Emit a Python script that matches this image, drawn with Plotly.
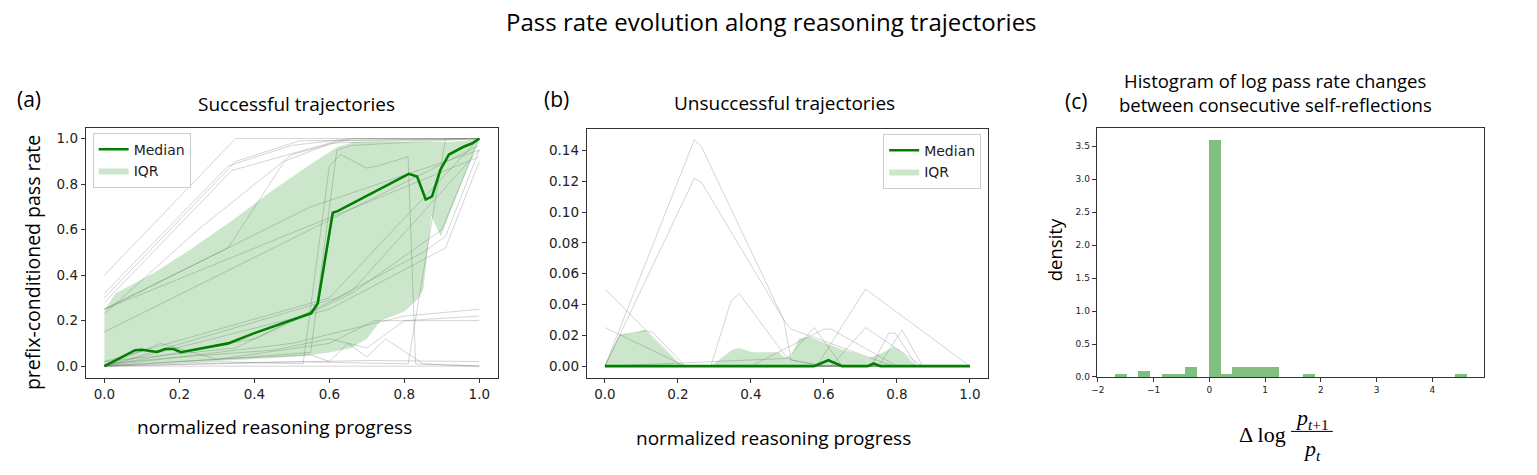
import plotly.graph_objects as go

W, H = 1537, 475

# ---------------- Data: panel (a) successful trajectories ----------------
succ_traj_x = [
    [0, 0.35, 1],
    [0, 0.33, 0.5, 0.66, 1],
    [0, 0.35, 0.52, 1],
    [0, 0.34, 0.6, 1],
    [0, 0.33, 0.48, 0.62, 1],
    [0, 0.25, 0.5, 0.66, 1],
    [0, 1],
    [0, 0.55, 1],
    [0, 0.4, 0.66, 1],
    [0, 0.6, 1],
    [0, 0.3, 0.53, 0.6, 0.63, 0.7, 0.73, 0.81, 0.83, 1],
    [0, 0.3, 0.55, 0.62, 0.66, 1],
    [0, 0.5, 0.81, 0.91, 1],
    [0, 0.3, 0.6, 0.72, 1],
    [0, 0.5, 0.8, 1],
    [0, 0.15, 0.3, 0.55, 0.6, 0.65, 0.7, 0.75, 0.85, 1],
    [0, 1],
    [0, 0.7, 1],
    [0, 0.6, 0.83, 0.91, 1],
    [0, 0.62, 0.85, 0.91, 1],
    [0, 1],
    [0, 0.35, 0.66, 0.9, 1],
    [0, 0.2, 0.45, 0.6, 0.7, 0.8, 1],
]
succ_traj_y = [
    [0.40, 1.0, 1.0],
    [0.32, 0.88, 0.97, 1.0, 1.0],
    [0.30, 0.90, 0.99, 1.0],
    [0.28, 0.86, 0.98, 1.0],
    [0.25, 0.52, 0.90, 0.99, 1.0],
    [0.23, 0.60, 0.93, 1.0, 1.0],
    [0.15, 0.97],
    [0.25, 0.70, 0.95],
    [0.0, 0.12, 0.33, 0.95],
    [0.02, 0.30, 1.0],
    [0.0, 0.02, 0.01, 0.88, 0.93, 0.87, 0.88, 0.92, 0.01, 0.0],
    [0.0, 0.03, 0.06, 0.95, 0.97, 1.0],
    [0.0, 0.02, 0.01, 1.0, 1.0],
    [0.0, 0.03, 0.10, 0.20, 0.20],
    [0.0, 0.10, 0.22, 0.25],
    [0.0, 0.10, 0.03, 0.05, 0.02, 0.10, 0.04, 0.12, 0.01, 0.0],
    [0.0, 0.0],
    [0.0, 0.025, 0.02],
    [0.0, 0.25, 0.45, 0.52, 0.90],
    [0.0, 0.30, 0.50, 0.57, 0.95],
    [0.25, 0.92],
    [0.02, 0.08, 0.32, 0.60, 1.0],
    [0.01, 0.04, 0.07, 0.12, 0.08, 0.20, 0.22],
]
succ_median_x = [0, 0.082, 0.10, 0.14, 0.162, 0.184, 0.204, 0.233, 0.33, 0.40, 0.551, 0.569,
                 0.609, 0.622, 0.812, 0.834, 0.857, 0.874, 0.896, 0.919, 0.958, 0.98, 1.0]
succ_median_y = [0, 0.07, 0.072, 0.062, 0.075, 0.075, 0.061, 0.07, 0.10, 0.145, 0.232, 0.275,
                 0.674, 0.681, 0.845, 0.833, 0.732, 0.746, 0.862, 0.930, 0.964, 0.978, 1.0]
succ_iqr_x = [0, 0.029, 0.135, 0.224, 0.339, 0.445, 0.534, 0.622, 0.666, 0.75, 0.85, 0.92,
              0.96, 1.0]
succ_iqr_hi = [0.246, 0.319, 0.413, 0.507, 0.638, 0.768, 0.870, 0.964, 0.985, 0.985, 0.985,
               0.985, 0.99, 1.0]
succ_iqr_lo_x = [0, 0.1, 0.27, 0.4, 0.53, 0.6, 0.658, 0.70, 0.737, 0.80, 0.838, 0.851,
                 0.872, 0.897, 1.0]
succ_iqr_lo = [0.0, 0.01, 0.02, 0.03, 0.043, 0.06, 0.08, 0.12, 0.20, 0.24, 0.297, 0.34,
               0.66, 0.57, 1.0]

# ---------------- Data: panel (b) unsuccessful trajectories ----------------
fail_traj_x = [
    [0, 0.245, 0.265, 0.49, 0.51, 0.79, 1],
    [0, 0.245, 0.265, 0.49, 0.51, 0.6, 1],
    [0, 0.21, 1],
    [0, 0.22, 1],
    [0, 0.04, 0.11, 0.13, 0.22, 1],
    [0, 0.29, 0.345, 0.368, 0.49, 0.51, 0.6, 1],
    [0, 0.4, 0.6, 0.62, 0.8, 1],
    [0, 0.5, 0.573, 0.65, 1],
    [0, 0.58, 0.714, 1],
    [0, 0.62, 0.714, 0.79, 0.87, 1],
    [0, 0.73, 0.778, 0.796, 0.855, 1],
    [0, 0.75, 0.814, 0.87, 1],
]
fail_traj_y = [
    [0, 0.147, 0.142, 0.030, 0.024, 0.0, 0.0],
    [0, 0.122, 0.119, 0.030, 0.004, 0.0, 0.0],
    [0.05, 0.0, 0.0],
    [0.025, 0.0, 0.0],
    [0, 0.020, 0.023, 0.022, 0.0, 0.0],
    [0, 0.0, 0.042, 0.047, 0.008, 0.004, 0.0, 0.0],
    [0, 0.0, 0.024, 0.024, 0.0, 0.0],
    [0, 0.005, 0.025, 0.0, 0.0],
    [0, 0.0, 0.050, 0.0],
    [0, 0.0, 0.025, 0.013, 0.0, 0.0],
    [0, 0.0, 0.0214, 0.0214, 0.0, 0.0],
    [0, 0.0, 0.0235, 0.0, 0.0],
]
fail_median_x = [0, 0.573, 0.612, 0.65, 0.72, 0.736, 0.755, 1.0]
fail_median_y = [0, 0.0, 0.0038, 0.0, 0.0, 0.0017, 0.0, 0.0]
fail_iqr_x = [0, 0.041, 0.082, 0.109, 0.2, 0.22, 0.29, 0.35, 0.368, 0.405, 0.477, 0.49,
              0.509, 0.532, 0.559, 0.65, 0.686, 0.723, 0.755, 0.79, 0.805, 0.855, 1.0]
fail_iqr_hi = [0, 0.0203, 0.0214, 0.0235, 0.002, 0.0, 0.0, 0.0107, 0.0118, 0.009, 0.009,
               0.006, 0.006, 0.018, 0.019, 0.0107, 0.0085, 0.0053, 0.008, 0.0124, 0.0107,
               0.0, 0.0]
fail_iqr_lo = [0.0] * len(fail_iqr_x)

# ---------------- Data: panel (c) histogram ----------------
hist_bin_width = 0.2107
hist_bin_left = [-1.70, -1.279, -0.857, -0.646, -0.436, -0.014, 0.197, 0.407, 0.618,
                 0.829, 1.039, 1.671, 4.41]
hist_density = [0.05, 0.10, 0.05, 0.05, 0.15, 3.60, 0.05, 0.15, 0.15, 0.15, 0.15, 0.05, 0.05]
hist_xticks = [-2, -1, 0, 1, 2, 3, 4]
hist_xtick_text = ["\u22122", "\u22121", "0", "1", "2", "3", "4"]

GRAY = "rgba(128,128,128,0.34)"
GREEN = "#008000"
FILL = "rgba(0,128,0,0.2)"

fig = go.Figure()

# Panel (a)
for xs, ys in zip(succ_traj_x, succ_traj_y):
    fig.add_trace(go.Scatter(x=xs, y=ys, mode="lines", line=dict(color=GRAY, width=1),
                             showlegend=False, hoverinfo="skip", xaxis="x", yaxis="y"))
fig.add_trace(go.Scatter(x=succ_iqr_lo_x + succ_iqr_x[::-1], y=succ_iqr_lo + succ_iqr_hi[::-1],
                         mode="lines", fill="toself", fillcolor=FILL, line=dict(width=0),
                         name="IQR", legend="legend", legendrank=2, xaxis="x", yaxis="y"))
fig.add_trace(go.Scatter(x=succ_median_x, y=succ_median_y, mode="lines",
                         line=dict(color=GREEN, width=2.6), name="Median", legend="legend",
                         legendrank=1, xaxis="x", yaxis="y"))

# Panel (b)
for xs, ys in zip(fail_traj_x, fail_traj_y):
    fig.add_trace(go.Scatter(x=xs, y=ys, mode="lines", line=dict(color=GRAY, width=1),
                             showlegend=False, hoverinfo="skip", xaxis="x2", yaxis="y2"))
fig.add_trace(go.Scatter(x=fail_iqr_x + fail_iqr_x[::-1], y=fail_iqr_lo + fail_iqr_hi[::-1],
                         mode="lines", fill="toself", fillcolor=FILL, line=dict(width=0),
                         name="IQR", legend="legend2", legendrank=2, xaxis="x2", yaxis="y2"))
fig.add_trace(go.Scatter(x=fail_median_x, y=fail_median_y, mode="lines",
                         line=dict(color=GREEN, width=2.6), name="Median", legend="legend2",
                         legendrank=1, xaxis="x2", yaxis="y2"))

# Panel (c)
fig.add_trace(go.Bar(x=hist_bin_left, y=hist_density, width=hist_bin_width, offset=0,
                     marker=dict(color="rgba(0,128,0,0.5)", line=dict(width=0)),
                     showlegend=False, xaxis="x3", yaxis="y3"))


def px_x(p):
    return p / W


def px_y(p):
    return 1 - p / H


tick_font = dict(family="DejaVu Sans", size=13.5, color="#222")
small_tick_font = dict(family="DejaVu Sans", size=9, color="#222")
axis_common = dict(showline=True, mirror=True, linecolor="#333", linewidth=1, showgrid=False,
                   zeroline=False, ticks="outside", ticklen=4, tickcolor="#333", tickwidth=1)

fig.update_layout(
    width=W, height=H, margin=dict(l=0, r=0, t=0, b=0),
    paper_bgcolor="white", plot_bgcolor="white", bargap=0,
    xaxis=dict(domain=[px_x(80), px_x(494)], range=[-0.05, 1.05], tickvals=[0, 0.2, 0.4, 0.6, 0.8, 1.0],
               tickformat=".1f", tickfont=tick_font, anchor="y", **axis_common),
    yaxis=dict(domain=[px_y(382), px_y(129)], range=[-0.052, 1.048], tickvals=[0, 0.2, 0.4, 0.6, 0.8, 1.0],
               tickformat=".1f", tickfont=tick_font, anchor="x", **axis_common),
    xaxis2=dict(domain=[px_x(583), px_x(986)], range=[-0.05, 1.05], tickvals=[0, 0.2, 0.4, 0.6, 0.8, 1.0],
                tickformat=".1f", tickfont=tick_font, anchor="y2", **axis_common),
    yaxis2=dict(domain=[px_y(382), px_y(130)], range=[-0.0077, 0.1541],
                tickvals=[0, 0.02, 0.04, 0.06, 0.08, 0.10, 0.12, 0.14],
                tickformat=".2f", tickfont=tick_font, anchor="x2", **axis_common),
    xaxis3=dict(domain=[px_x(1095), px_x(1484)], range=[-2.02, 4.93], tickvals=hist_xticks,
                ticktext=hist_xtick_text, tickfont=small_tick_font, anchor="y3", **axis_common),
    yaxis3=dict(domain=[px_y(381), px_y(129)], range=[0, 3.78],
                tickvals=[0, 0.5, 1.0, 1.5, 2.0, 2.5, 3.0, 3.5],
                tickformat=".1f", tickfont=small_tick_font, anchor="x3", **axis_common),
    legend=dict(x=px_x(87), y=px_y(134), xanchor="left", yanchor="top",
                bgcolor="rgba(255,255,255,0.8)", bordercolor="#ccc", borderwidth=1,
                font=dict(family="DejaVu Sans", size=14, color="#222"), tracegroupgap=0),
    legend2=dict(x=px_x(979), y=px_y(135), xanchor="right", yanchor="top",
                 bgcolor="rgba(255,255,255,0.8)", bordercolor="#ccc", borderwidth=1,
                 font=dict(family="DejaVu Sans", size=14, color="#222"), tracegroupgap=0),
    showlegend=True,
)

TXT = "Open Sans"
annots = [
    ("Pass rate evolution along reasoning trajectories", 768, 22, 24, 0),
    ("(a)", 23, 100, 21, 0),
    ("Successful trajectories", 292, 105, 19, 0),
    ("(b)", 553, 100, 21, 0),
    ("Unsuccessful trajectories", 782, 104, 19, 0),
    ("(c)", 1074, 102, 21, 0),
    ("Histogram of log pass rate changes", 1274, 81, 18.5, 0),
    ("between consecutive self-reflections", 1274, 106, 18.5, 0),
    ("prefix-conditioned pass rate", 26, 265, 19.5, -90),
    ("normalized reasoning progress", 270, 432, 19, 0),
    ("normalized reasoning progress", 771, 443, 19, 0),
    ("density", 1052, 252, 18.5, -90),
]
for text, x, y, size, ang in annots:
    fig.add_annotation(text=text, x=px_x(x), y=px_y(y), xref="paper", yref="paper",
                       showarrow=False, xanchor="center", yanchor="middle", textangle=ang,
                       font=dict(family=TXT, size=size, color="black"))

SERIF = "Liberation Serif"
fig.add_annotation(text="\u0394\u2009log", x=px_x(1287), y=px_y(439), xref="paper", yref="paper",
                   showarrow=False, xanchor="right", yanchor="middle",
                   font=dict(family=SERIF, size=22, color="black"))
fig.add_annotation(text="<i>p</i><sub><i>t</i>+1</sub>", x=px_x(1311), y=px_y(423), xref="paper",
                   yref="paper", showarrow=False, xanchor="center", yanchor="middle",
                   font=dict(family=SERIF, size=22, color="black"))
fig.add_annotation(text="<i>p</i><sub><i>t</i></sub>", x=px_x(1311), y=px_y(455), xref="paper",
                   yref="paper", showarrow=False, xanchor="center", yanchor="middle",
                   font=dict(family=SERIF, size=22, color="black"))
fig.add_shape(type="line", xref="paper", yref="paper", x0=px_x(1290), x1=px_x(1332),
              y0=px_y(436), y1=px_y(436), line=dict(color="black", width=1))

fig.write_html("out.html")
